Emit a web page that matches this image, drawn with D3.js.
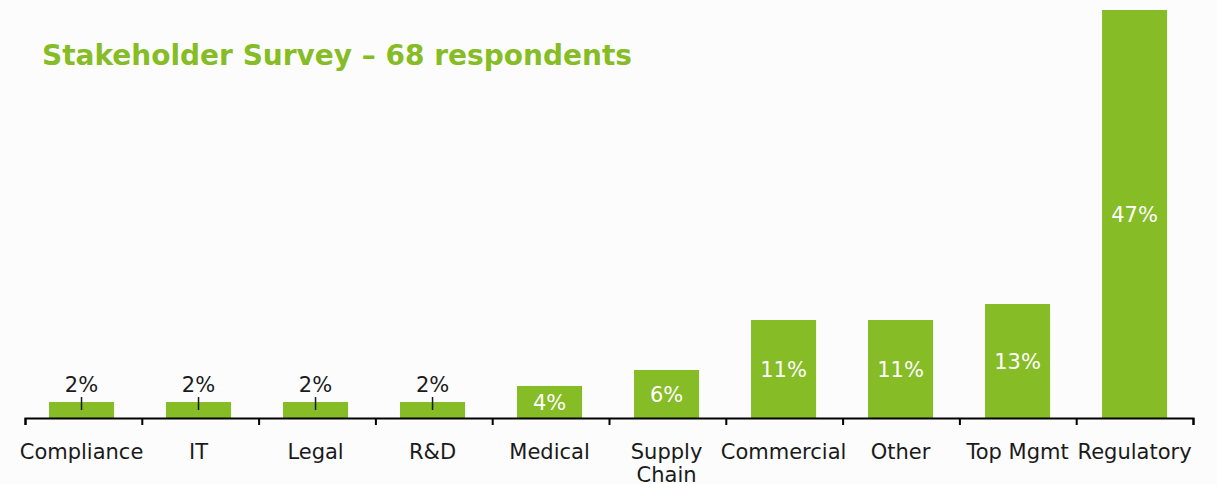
<!DOCTYPE html>
<html>
<head>
<meta charset="utf-8">
<script src="https://cdn.jsdelivr.net/npm/d3@7"></script>
<style>
  body { margin: 0; background: #fcfcfc; }
  svg { display: block; font-family: "DejaVu Sans", Verdana, sans-serif; }
  .axis path, .axis line { stroke: #000; stroke-width: 2; }
  .axis text { fill: #1a1a1a; font-family: "DejaVu Sans", Verdana, sans-serif; }
</style>
</head>
<body>
<svg id="chart" width="1217" height="484"></svg>
<script>
const categories = ["Compliance", "IT", "Legal", "R&D", "Medical", "Supply Chain", "Commercial", "Other", "Top Mgmt", "Regulatory"];
// bar heights (percent of respondents)
const shares = [1.84, 1.84, 1.84, 1.84, 3.69, 5.53, 11.29, 11.29, 13.13, 47];
const valueLabels = ["2%", "2%", "2%", "2%", "4%", "6%", "11%", "11%", "13%", "47%"];

const green = "#86bc25";
const svg = d3.select("#chart");

const x0 = 25, x1 = 1193, baseY = 418, topY = 10;

const xScale = d3.scaleBand().domain(categories).range([25.6, 1190.5])
  .paddingInner(0.444).paddingOuter(0.2);
const yScale = d3.scaleLinear().domain([0, 47]).range([baseY, topY]);
const slotScale = d3.scaleLinear().domain([0, categories.length]).range([x0, x1]);

svg.append("text")
  .attr("x", 42)
  .attr("y", 65)
  .attr("fill", green)
  .attr("font-weight", "bold")
  .attr("font-size", 28)
  .text("Stakeholder Survey – 68 respondents");

const data = categories.map((c, i) => ({ cat: c, v: shares[i], label: valueLabels[i] }));

svg.append("g")
  .selectAll("rect")
  .data(data)
  .join("rect")
  .attr("x", (d) => xScale(d.cat))
  .attr("y", (d) => yScale(d.v))
  .attr("width", xScale.bandwidth())
  .attr("height", (d) => yScale(0) - yScale(d.v))
  .attr("fill", green);

// small values get their label above the bar with a leader line
const outside = (d) => yScale(0) - yScale(d.v) < 25;

svg.append("g")
  .selectAll("line")
  .data(data.filter(outside))
  .join("line")
  .attr("x1", (d) => xScale(d.cat) + xScale.bandwidth() / 2)
  .attr("x2", (d) => xScale(d.cat) + xScale.bandwidth() / 2)
  .attr("y1", (d) => yScale(d.v) - 5)
  .attr("y2", (d) => yScale(d.v) + 8)
  .attr("stroke", "#1a1a1a")
  .attr("stroke-width", 1.5);

svg.append("g")
  .selectAll("text")
  .data(data)
  .join("text")
  .attr("x", (d) => xScale(d.cat) + xScale.bandwidth() / 2)
  .attr("y", (d) => outside(d) ? yScale(d.v) - 10 : (yScale(d.v) + yScale(0)) / 2 + 8)
  .attr("text-anchor", "middle")
  .attr("font-size", 21)
  .attr("fill", (d) => outside(d) ? "#1a1a1a" : "#fff")
  .text((d) => d.label);

// boundary ticks
svg.append("g")
  .attr("class", "axis")
  .attr("transform", `translate(0,${baseY})`)
  .call(d3.axisBottom(slotScale).ticks(categories.length).tickFormat("").tickSize(7).tickSizeOuter(7));

// category labels
const labelAxis = svg.append("g")
  .attr("class", "axis")
  .attr("transform", `translate(0,${baseY})`)
  .call(d3.axisBottom(xScale).tickSize(0).tickPadding(0));
labelAxis.select(".domain").remove();
labelAxis.attr("font-size", 21);
labelAxis.selectAll("text")
  .attr("dy", null)
  .attr("y", 41)
  .each(function (d) {
    const t = d3.select(this);
    const words = d === "Supply Chain" ? ["Supply", "Chain"] : [d];
    t.text(null);
    words.forEach((w, i) => {
      t.append("tspan").attr("x", 0).attr("dy", i === 0 ? 0 : 23).text(w);
    });
  });
</script>
</body>
</html>
